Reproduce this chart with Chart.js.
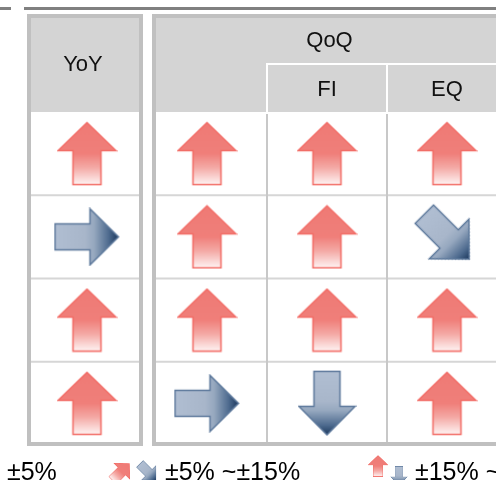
<!DOCTYPE html>
<html>
<head>
<meta charset="utf-8">
<script src="https://cdn.jsdelivr.net/npm/chart.js@4/dist/chart.umd.min.js"></script>
<style>
  html, body { margin: 0; padding: 0; background: #fff; overflow: hidden; }
  #wrap { width: 496px; height: 480px; overflow: hidden; }
</style>
</head>
<body>
<div id="wrap"><canvas id="arrow-table" width="520" height="480"></canvas></div>
<script>
// DATA

const columnLabels = ['YoY', '', 'FI', 'EQ'];
const groupLabel = 'QoQ';

// change level: 2 = over +15%, 1 = +5%~+15%, 0 = within ±5%, -1 = -5%~-15%, -2 = below -15%
const yoyLevels = [2, 0, 2, 2];
const qoqLevels = [2, 2, 2, 0];
const fiLevels = [2, 2, 2, -2];
const eqLevels = [2, -1, 2, 2];

const legendLabels = ['±5%', '±5% ~±15%', '±15% ~'];

const FONT = '"Liberation Sans", Arial, sans-serif';

// ARROW IMAGES

function makeUpArrow() {
	const c = document.createElement('canvas');
	c.width = 61;
	c.height = 65;
	const g = c.getContext('2d');
	g.beginPath();
	g.moveTo(30.5, 1.5);
	g.lineTo(59.5, 29.5);
	g.lineTo(44.5, 29.5);
	g.lineTo(44.5, 63.5);
	g.lineTo(16.5, 63.5);
	g.lineTo(16.5, 29.5);
	g.lineTo(1.5, 29.5);
	g.closePath();
	const grad = g.createLinearGradient(0, 1, 0, 64);
	grad.addColorStop(0, '#ef7a75');
	grad.addColorStop(0.5, '#f07f7a');
	grad.addColorStop(0.72, '#f4a9a5');
	grad.addColorStop(1, '#fff6f6');
	g.fillStyle = grad;
	g.fill();
	g.lineWidth = 1.5;
	g.strokeStyle = '#f26c66';
	g.stroke();
	return c;
}

function makeRightArrow() {
	const c = document.createElement('canvas');
	c.width = 67;
	c.height = 59;
	const g = c.getContext('2d');
	g.beginPath();
	g.moveTo(1.5, 16.5);
	g.lineTo(36.5, 16.5);
	g.lineTo(36.5, 1.5);
	g.lineTo(65, 29.5);
	g.lineTo(36.5, 57.5);
	g.lineTo(36.5, 42.5);
	g.lineTo(1.5, 42.5);
	g.closePath();
	const grad = g.createLinearGradient(1, 0, 65, 0);
	grad.addColorStop(0, '#b0bed2');
	grad.addColorStop(0.48, '#a8b6ca');
	grad.addColorStop(0.62, '#96a8bf');
	grad.addColorStop(0.85, '#4d6a8e');
	grad.addColorStop(1, '#1b375c');
	g.fillStyle = grad;
	g.fill();
	g.lineWidth = 1.5;
	g.strokeStyle = '#5c789b';
	g.stroke();
	return c;
}

const upArrow = makeUpArrow();
const rightArrow = makeRightArrow();

function arrowFor(level) {
	return level > 0 ? upArrow : rightArrow;
}

function rotationFor(level) {
	if (level === 2) return 0;
	if (level === 1) return 45;
	if (level === 0) return 0;
	if (level === -1) return 45;
	return 90;
}

// TABLE PLUGIN

const tablePlugin = {
	id: 'tableGrid',
	beforeDatasetsDraw(chart) {
		const ctx = chart.ctx;
		const a = chart.chartArea;
		const px = v => chart.scales.x.getPixelForValue(v);
		const py = v => chart.scales.y.getPixelForValue(v);
		const headTop = a.top - 98;
		const subTop = a.top - 48;
		const blocks = [[px(-0.5), px(0.5) - 4], [px(0.5) + 5, px(3.5)]];

		ctx.save();

		// top rule
		ctx.fillStyle = '#808080';
		ctx.fillRect(0, 7, 11, 3);
		ctx.fillRect(24, 7, chart.width, 3);

		// header fill
		ctx.fillStyle = '#d4d4d4';
		blocks.forEach(([l, r]) => ctx.fillRect(l, headTop, r - l, a.top - headTop));

		// white lines between sub headers
		ctx.fillStyle = '#ffffff';
		ctx.fillRect(px(1.5) - 1, subTop - 1, px(3.5) - px(1.5) + 1, 2);
		ctx.fillRect(px(1.5) - 1, subTop - 1, 2, a.top - subTop + 1);
		ctx.fillRect(px(2.5) - 1, subTop - 1, 2, a.top - subTop + 1);

		// body grid
		ctx.fillStyle = '#d6d6d6';
		[0.5, 1.5, 2.5].forEach(v => {
			blocks.forEach(([l, r]) => ctx.fillRect(l, py(v) - 1, r - l, 2));
		});
		ctx.fillStyle = '#c8c8c8';
		ctx.fillRect(px(1.5) - 1, a.top + 2, 2, a.bottom - a.top - 4);
		ctx.fillRect(px(2.5) - 1, a.top + 2, 2, a.bottom - a.top - 4);

		// block borders
		ctx.strokeStyle = '#c0c0c0';
		ctx.lineWidth = 4;
		blocks.forEach(([l, r]) => ctx.strokeRect(l + 2, headTop + 2, r - l - 4, a.bottom + 1 - headTop - 4));

		// header text
		ctx.fillStyle = '#111111';
		ctx.font = '22px ' + FONT;
		ctx.textAlign = 'center';
		ctx.textBaseline = 'middle';
		ctx.fillText(columnLabels[0], (blocks[0][0] + blocks[0][1]) / 2 - 2, (headTop + a.top) / 2 + 2);
		ctx.fillText(groupLabel, (blocks[1][0] + blocks[1][1]) / 2, (headTop + subTop) / 2 + 2);
		for (let i = 1; i < columnLabels.length; i++) {
			if (columnLabels[i]) ctx.fillText(columnLabels[i], px(i), (subTop + a.top) / 2 + 2);
		}

		ctx.restore();
	},
	afterDraw(chart) {
		const ctx = chart.ctx;
		ctx.save();

		const icon = (img, cx, cy, scale, deg) => {
			ctx.save();
			ctx.translate(cx, cy);
			ctx.rotate(deg * Math.PI / 180);
			ctx.drawImage(img, -img.width * scale / 2, -img.height * scale / 2, img.width * scale, img.height * scale);
			ctx.restore();
		};

		icon(upArrow, 121, 472, 0.38, 45);
		icon(rightArrow, 148, 472, 0.36, 45);
		icon(upArrow, 378, 466, 0.34, 0);
		icon(rightArrow, 399, 476, 0.3, 90);

		ctx.fillStyle = '#000000';
		ctx.font = '25px ' + FONT;
		ctx.textAlign = 'left';
		ctx.textBaseline = 'alphabetic';
		ctx.fillText(legendLabels[0], 7, 480);
		ctx.fillText(legendLabels[1], 165, 480);
		ctx.fillText(legendLabels[2], 415, 480);

		ctx.restore();
	}
};

// CHART

const columns = [yoyLevels, qoqLevels, fiLevels, eqLevels];
const canvas = document.getElementById('arrow-table');

new Chart(canvas.getContext('2d'), {
	type: 'scatter',
	data: {
		datasets: columns.map((levels, col) => ({
			label: columnLabels[col] || groupLabel,
			data: levels.map((level, row) => ({ x: col, y: row, level: level })),
			pointStyle: c => (c.raw ? arrowFor(c.raw.level) : 'circle'),
			rotation: c => (c.raw ? rotationFor(c.raw.level) : 0),
			pointRadius: 1,
			pointHoverRadius: 1,
		})),
	},
	options: {
		responsive: false,
		animation: false,
		events: [],
		layout: {
			autoPadding: false,
			padding: { top: 112, bottom: 35, left: 27, right: canvas.width - 507 },
		},
		scales: {
			x: { type: 'linear', min: -0.5, max: 3.5, display: false },
			y: { type: 'linear', min: -0.5, max: 3.5, reverse: true, display: false },
		},
		plugins: {
			legend: { display: false },
			tooltip: { enabled: false },
		},
	},
	plugins: [tablePlugin],
});
</script>
</body>
</html>
